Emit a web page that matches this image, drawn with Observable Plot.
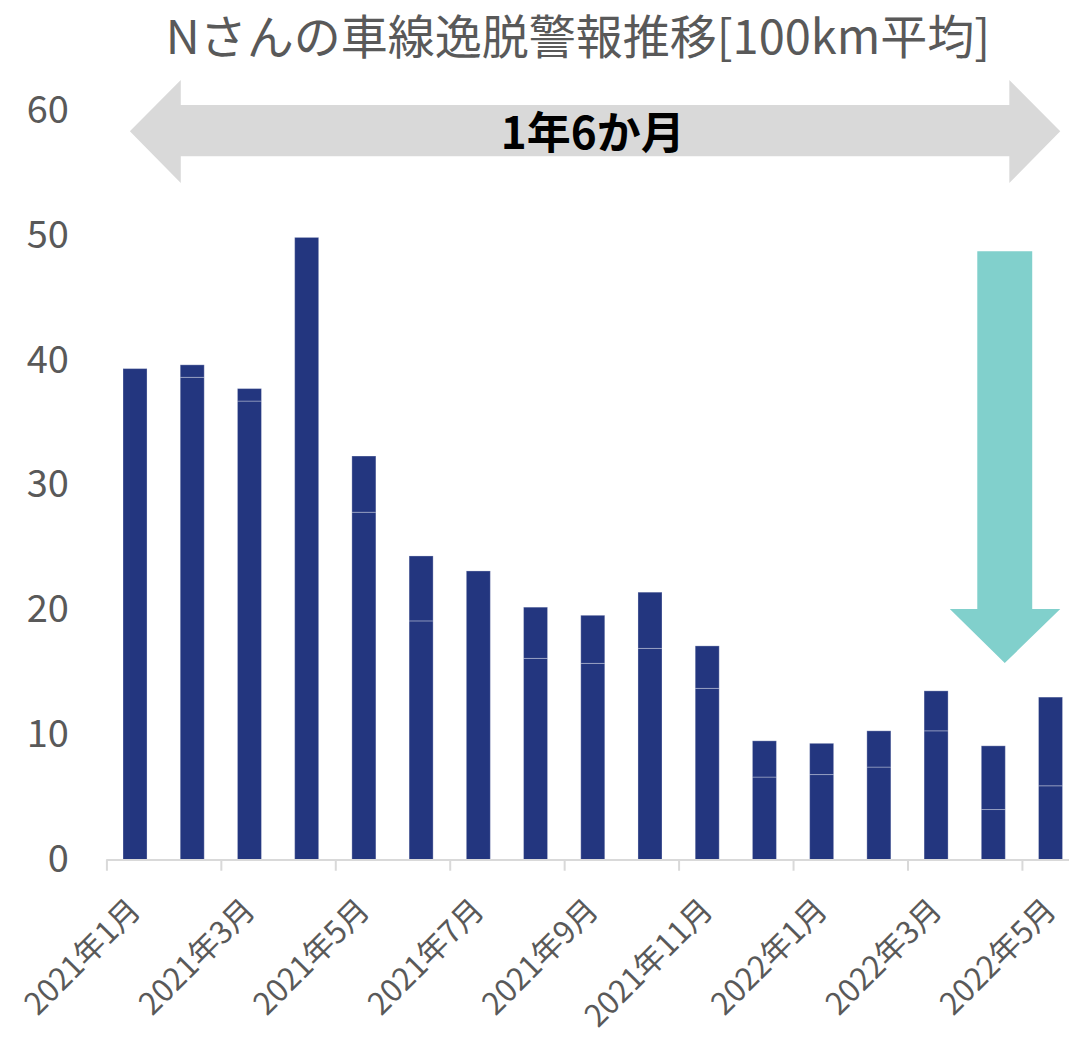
<!DOCTYPE html>
<html>
<head>
<meta charset="utf-8">
<script src="https://cdn.jsdelivr.net/npm/d3@7"></script>
<script src="https://cdn.jsdelivr.net/npm/@observablehq/plot@0.6"></script>
<style>
  html, body { margin: 0; padding: 0; background: #ffffff; }
  #title {
    height: 60px; line-height: 68px; font-size: 47px; color: #595959;
    font-family: "Noto Sans CJK JP", "Noto Sans", sans-serif;
    text-align: center; padding-left: 87px; box-sizing: border-box; width: 1069px;
    white-space: nowrap; overflow: visible;
  }
  #chart svg { display: block; overflow: visible; }
</style>
</head>
<body>
<div id="title">Nさんの車線逸脱警報推移[100km平均]</div>
<div id="chart"></div>
<script>
// ---- data ----
const months = [
  "2021年1月", "2021年2月", "2021年3月", "2021年4月", "2021年5月", "2021年6月",
  "2021年7月", "2021年8月", "2021年9月", "2021年10月", "2021年11月", "2021年12月",
  "2022年1月", "2022年2月", "2022年3月", "2022年4月", "2022年5月"
];
// lower and upper stacked segments (warnings per 100 km)
const lowerSeg = [39.3, 38.6, 36.7, 49.8, 27.8, 19.1, 23.1, 16.1, 15.7, 16.9, 13.7, 6.6, 6.8, 7.4, 10.3, 4.0, 5.9];
const upperSeg = [0, 1.0, 1.0, 0, 4.5, 5.2, 0, 4.1, 3.85, 4.5, 3.4, 2.9, 2.5, 2.9, 3.2, 5.1, 7.1];
const yTicks = [0, 10, 20, 30, 40, 50, 60];
const labelEvery = 2;
const spanLabel = "1年6か月";

// ---- annotation shapes, in data units (month index, value) ----
const spanArrowX    = [0.41, 1.30, 1.30, 15.78, 15.78, 16.67];
const spanArrowLow  = [58.3, 54.15, 56.3, 56.3, 54.15, 58.3];
const spanArrowHigh = [58.3, 62.4, 60.4, 60.4, 62.4, 58.3];
const downArrowY     = [48.7, 20.05, 20.05, 15.73];
const downArrowLeft  = [15.22, 15.22, 14.74, 15.70];
const downArrowRight = [16.18, 16.18, 16.67, 15.70];

// ---- derived tables ----
const rows = months.flatMap((m, i) => [
  {i, month: m, seg: "lower", v: lowerSeg[i]},
  {i, month: m, seg: "upper", v: upperSeg[i]}
]);
const tickIdx = months.map((m, i) => i).filter(i => i % labelEvery === 0);
const labelRows = tickIdx.map(i => ({i, text: months[i]}));
const spanPts = spanArrowX.map((x, k) => ({x, y1: spanArrowLow[k], y2: spanArrowHigh[k]}));
const downPts = downArrowY.map((y, k) => ({y, x1: downArrowLeft[k], x2: downArrowRight[k]}));

const font = '"Noto Sans CJK JP", "Noto Sans", sans-serif';
const W = 1069, H = 977;
const mL = 106.4, step = 57.22;

const chart = Plot.plot({
  width: W,
  height: H,
  marginTop: 50,
  marginBottom: 177.5,
  marginLeft: mL,
  marginRight: 0,
  style: {fontFamily: font, background: "#ffffff", overflow: "visible"},
  x: {type: "linear", domain: [0, (W - mL) / step], axis: null},
  y: {type: "linear", domain: [0, 60], axis: null},
  marks: [
    Plot.areaY(spanPts, {x: "x", y1: "y1", y2: "y2", fill: "#d9d9d9", curve: "linear"}),
    Plot.text([spanLabel], {x: 8.49, y: 58.3, text: d => d, fontSize: 44, fontWeight: "bold",
      fill: "#000000", lineAnchor: "middle", textAnchor: "middle", dy: 3}),
    Plot.rectY(rows, {x1: "i", x2: d => d.i + 1, y: "v", insetLeft: 16.6, insetRight: 16.6,
      fill: "#23367f", stroke: "#ffffff", strokeOpacity: 0.3, strokeWidth: 1}),
    Plot.areaX(downPts, {y: "y", x1: "x1", x2: "x2", fill: "#81d0cc", curve: "linear"}),
    Plot.ruleY([0], {stroke: "#d9d9d9", strokeWidth: 2}),
    Plot.ruleX(tickIdx, {x: d => d, y1: 0, y2: -0.9, stroke: "#d9d9d9", strokeWidth: 2}),
    Plot.text(yTicks, {frameAnchor: "left", y: d => d, text: d => String(d), textAnchor: "end",
      dx: -38, fontSize: 38, fill: "#595959", lineAnchor: "middle"}),
    Plot.text(labelRows, {x: d => d.i + 0.5, frameAnchor: "bottom", text: "text", rotate: -45,
      textAnchor: "end", lineAnchor: "middle", dy: 45, fontSize: 31, fill: "#595959"})
  ]
});
document.getElementById("chart").appendChild(chart);
</script>
</body>
</html>
